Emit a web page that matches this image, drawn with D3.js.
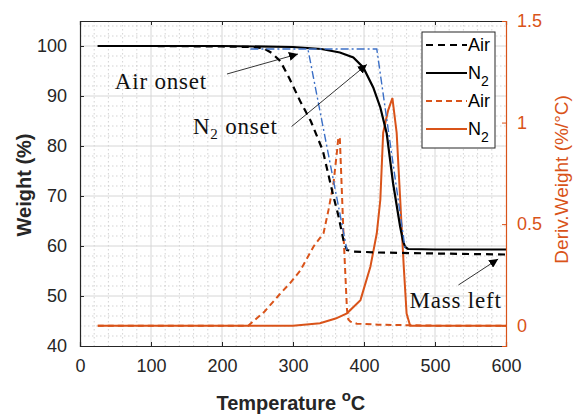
<!DOCTYPE html>
<html>
<head>
<meta charset="utf-8">
<script src="https://cdn.jsdelivr.net/npm/d3@7"></script>
<style>
  body { margin: 0; background: #fff; }
  .tick text { font-family: "Liberation Sans", Arial, sans-serif; font-size: 18px; }
  .note { font-family: "Liberation Serif", "DejaVu Serif", serif; font-size: 23px; letter-spacing: 0.8px; fill: #111; }
</style>
</head>
<body>
<div class="chart"></div>
<script>
// weight curves (TGA)
var tempAir = [25, 100, 200, 240, 258, 270, 282, 295, 310, 325, 342, 356, 364, 371, 376, 385, 420, 500, 600];
var weightAir = [100, 100, 99.9, 99.8, 99.6, 98.6, 97.0, 93.5, 89.0, 85.0, 79.1, 70.5, 66.0, 61.2, 59.2, 58.9, 58.7, 58.5, 58.3];
var tempN2 = [25, 200, 300, 340, 366, 385, 399, 413, 423, 432, 441, 451, 455, 458, 462, 500, 600];
var weightN2 = [100, 100, 99.8, 99.4, 98.7, 97.7, 95.7, 91.7, 87.7, 82.5, 72.5, 63.8, 61.0, 59.8, 59.4, 59.3, 59.3];

// derivative curves (DTG)
var tempAirD = [25, 100, 200, 237, 260, 280, 296, 310, 329, 343, 350, 357, 362, 364, 366, 371, 376, 378, 381, 390, 420, 500, 600];
var derivAir = [0, 0, 0, 0, 0.07, 0.15, 0.21, 0.27, 0.39, 0.455, 0.57, 0.70, 0.86, 0.93, 0.92, 0.46, 0.08, 0.03, 0.02, 0.01, 0.005, 0, 0];
var tempN2D = [25, 100, 200, 300, 338, 360, 376, 395, 409, 418, 423, 427, 434, 440, 446, 451, 456, 460, 465, 480, 600];
var derivN2 = [0, 0, 0, 0, 0.012, 0.035, 0.061, 0.126, 0.29, 0.455, 0.62, 0.95, 1.06, 1.12, 0.95, 0.62, 0.29, 0.06, 0, 0, 0];

// onset tangent construction
var tangAirT = [240, 321, 376];
var tangAirW = [99.4, 99.4, 59.2];
var tangN2T = [322, 418, 458];
var tangN2W = [99.4, 99.4, 59.4];

var xTicks = [0, 100, 200, 300, 400, 500, 600];
var yTicks = [40, 50, 60, 70, 80, 90, 100];
var y2Ticks = [0, 0.5, 1, 1.5];

var orange = '#d95319';
var blue = '#3b6fc6';
var ink = '#262626';

var margin = {top: 21, right: 67, bottom: 68, left: 80};
var fullWidth = 573;
var fullHeight = 414;
var width = fullWidth - margin.left - margin.right;
var height = fullHeight - margin.top - margin.bottom;

var svgRoot = d3.select('.chart').append('svg')
  .attr('width', fullWidth)
  .attr('height', fullHeight);
var svg = svgRoot.append('g')
  .attr('transform', 'translate(' + margin.left + ',' + margin.top + ')');

var xScale = d3.scaleLinear().domain([0, 600]).range([0, width]);
var yScale = d3.scaleLinear().domain([40, 105]).range([height, 0]);
var y2Scale = d3.scaleLinear().domain([-0.1, 1.5]).range([height, 0]);

// grid: minor dotted, major solid
var grid = svg.append('g').classed('grid', true);
grid.selectAll('line.xminor')
  .data(d3.range(20, 600, 20).filter(function(d) { return d % 100; }))
  .enter().append('line')
  .attr('x1', function(d) { return xScale(d); }).attr('x2', function(d) { return xScale(d); })
  .attr('y1', 0).attr('y2', height)
  .attr('stroke', '#c8c8c8').attr('stroke-width', 0.8).attr('stroke-dasharray', '1.5,2.5');
grid.selectAll('line.yminor')
  .data(d3.range(42, 105, 2).filter(function(d) { return d % 10; }))
  .enter().append('line')
  .attr('y1', function(d) { return yScale(d); }).attr('y2', function(d) { return yScale(d); })
  .attr('x1', 0).attr('x2', width)
  .attr('stroke', '#c8c8c8').attr('stroke-width', 0.8).attr('stroke-dasharray', '1.5,2.5');
grid.selectAll('line.xmajor')
  .data(xTicks.slice(1, -1))
  .enter().append('line')
  .attr('x1', function(d) { return xScale(d); }).attr('x2', function(d) { return xScale(d); })
  .attr('y1', 0).attr('y2', height)
  .attr('stroke', '#d6d6d6').attr('stroke-width', 1);
grid.selectAll('line.ymajor')
  .data(yTicks.slice(1))
  .enter().append('line')
  .attr('y1', function(d) { return yScale(d); }).attr('y2', function(d) { return yScale(d); })
  .attr('x1', 0).attr('x2', width)
  .attr('stroke', '#d6d6d6').attr('stroke-width', 1);

function pairs(xs, ys) {
  return xs.map(function(x, i) { return [x, ys[i]]; });
}
var lineW = d3.line()
  .x(function(d) { return xScale(d[0]); })
  .y(function(d) { return yScale(d[1]); });
var lineD = d3.line()
  .x(function(d) { return xScale(d[0]); })
  .y(function(d) { return y2Scale(d[1]); });

var plot = svg.append('g').classed('lines', true);
plot.append('path').datum(pairs(tempAirD, derivAir))
  .attr('d', lineD).attr('fill', 'none').attr('stroke', orange)
  .attr('stroke-width', 2).attr('stroke-dasharray', '6,4');
plot.append('path').datum(pairs(tempN2D, derivN2))
  .attr('d', lineD).attr('fill', 'none').attr('stroke', orange)
  .attr('stroke-width', 2);
plot.append('path').datum(pairs(tempN2, weightN2))
  .attr('d', lineW).attr('fill', 'none').attr('stroke', '#000')
  .attr('stroke-width', 2.2);
plot.append('path').datum(pairs(tempAir, weightAir))
  .attr('d', lineW).attr('fill', 'none').attr('stroke', '#000')
  .attr('stroke-width', 2.2).attr('stroke-dasharray', '7,5');
plot.append('path').datum(pairs(tangAirT, tangAirW))
  .attr('d', lineW).attr('fill', 'none').attr('stroke', blue)
  .attr('stroke-width', 1.4).attr('stroke-dasharray', '8,3,2,3');
plot.append('path').datum(pairs(tangN2T, tangN2W))
  .attr('d', lineW).attr('fill', 'none').attr('stroke', blue)
  .attr('stroke-width', 1.4).attr('stroke-dasharray', '8,3,2,3');

// axes
var xAxisBottom = d3.axisBottom(xScale).tickValues(xTicks).tickSize(-4).tickPadding(13);
var xAxisTop = d3.axisTop(xScale).tickValues(xTicks).tickSize(-4).tickFormat('');
var yAxis = d3.axisLeft(yScale).tickValues(yTicks).tickSize(-4).tickPadding(13);
var y2Axis = d3.axisRight(y2Scale).tickValues(y2Ticks).tickSize(-4).tickPadding(11)
  .tickFormat(function(d) { return String(d); });

var gx = svg.append('g').classed('x axis', true)
  .attr('transform', 'translate(0,' + height + ')').call(xAxisBottom);
var gxt = svg.append('g').classed('x axis top', true).call(xAxisTop);
var gy = svg.append('g').classed('y axis', true).call(yAxis);
var gy2 = svg.append('g').classed('y2 axis', true)
  .attr('transform', 'translate(' + width + ',0)').call(y2Axis);

[gx, gxt, gy].forEach(function(g) {
  g.select('.domain').attr('stroke', ink).attr('stroke-width', 1.2);
  g.selectAll('.tick line').attr('stroke', ink);
  g.selectAll('.tick text').attr('fill', ink);
});
gy2.select('.domain').attr('stroke', orange).attr('stroke-width', 1.2);
gy2.selectAll('.tick line').attr('stroke', orange);
gy2.selectAll('.tick text').attr('fill', orange);

// axis titles
svgRoot.append('text')
  .attr('transform', 'translate(31,' + (margin.top + yScale(72.2)) + ') rotate(-90)')
  .attr('text-anchor', 'middle')
  .style('font-family', '"Liberation Sans", Arial, sans-serif')
  .style('font-size', '20px').style('font-weight', 'bold').attr('fill', ink)
  .text('Weight (%)');

var xt = svgRoot.append('text')
  .attr('x', margin.left + xScale(297)).attr('y', 410)
  .attr('text-anchor', 'middle')
  .style('font-family', '"Liberation Sans", Arial, sans-serif')
  .style('font-size', '20px').style('font-weight', 'bold').attr('fill', ink);
xt.append('tspan').text('Temperature ');
xt.append('tspan').attr('dy', -9).style('font-size', '15px').text('o');
xt.append('tspan').attr('dy', 9).text('C');

svgRoot.append('text')
  .attr('transform', 'translate(568,' + (margin.top + y2Scale(0.72)) + ') rotate(-90)')
  .attr('text-anchor', 'middle')
  .style('font-family', '"Liberation Sans", Arial, sans-serif')
  .style('font-size', '19px').attr('fill', orange)
  .text('Deriv.Weight (%/°C)');

// annotations
var defs = svgRoot.append('defs');
defs.append('marker').attr('id', 'head')
  .attr('viewBox', '0 0 10 10').attr('refX', 10).attr('refY', 5)
  .attr('markerWidth', 9).attr('markerHeight', 9).attr('markerUnits', 'userSpaceOnUse')
  .attr('orient', 'auto')
  .append('path').attr('d', 'M0,0 L10,5 L0,10 Z').attr('fill', '#000');

var arrows = [
  {from: [207, 94.4], to: [307, 98.4]},
  {from: [298, 83.9], to: [404, 96.3]},
  {from: [533, 52.2], to: [589, 57.4]}
];
svg.selectAll('line.arrow').data(arrows).enter().append('line')
  .classed('arrow', true)
  .attr('x1', function(d) { return xScale(d.from[0]); })
  .attr('y1', function(d) { return yScale(d.from[1]); })
  .attr('x2', function(d) { return xScale(d.to[0]); })
  .attr('y2', function(d) { return yScale(d.to[1]); })
  .attr('stroke', '#000').attr('stroke-width', 0.8)
  .attr('marker-end', 'url(#head)');

svg.append('text').classed('note', true)
  .attr('x', xScale(49)).attr('y', yScale(91.4)).text('Air onset');
var n2 = svg.append('text').classed('note', true)
  .attr('x', xScale(159)).attr('y', yScale(82.5));
n2.append('tspan').text('N');
n2.append('tspan').attr('dy', 5).style('font-size', '15px').text('2');
n2.append('tspan').attr('dy', -5).text(' onset');
svg.append('text').classed('note', true)
  .attr('x', xScale(464)).attr('y', yScale(47.6)).text('Mass left');

// legend
var legendItems = [
  {label: 'Air', sub: '', color: '#000', dash: '7,5'},
  {label: 'N', sub: '2', color: '#000', dash: null},
  {label: 'Air', sub: '', color: orange, dash: '6,4'},
  {label: 'N', sub: '2', color: orange, dash: null}
];
var legend = svgRoot.append('g').attr('transform', 'translate(422,32)');
legend.append('rect').attr('width', 73).attr('height', 116)
  .attr('fill', '#fff').attr('stroke', ink).attr('stroke-width', 1);
var li = legend.selectAll('g.item').data(legendItems).enter().append('g')
  .attr('transform', function(d, i) { return 'translate(0,' + (13 + i * 28) + ')'; });
li.append('line').attr('x1', 4).attr('x2', 45).attr('y1', 0).attr('y2', 0)
  .attr('stroke', function(d) { return d.color; }).attr('stroke-width', 2)
  .attr('stroke-dasharray', function(d) { return d.dash; });
var lt = li.append('text').attr('x', 46).attr('y', 6)
  .style('font-family', '"Liberation Sans", Arial, sans-serif')
  .style('font-size', '18px').attr('fill', '#000');
lt.append('tspan').text(function(d) { return d.label; });
lt.append('tspan').attr('dy', 7).style('font-size', '14px').text(function(d) { return d.sub; });
</script>
</body>
</html>
